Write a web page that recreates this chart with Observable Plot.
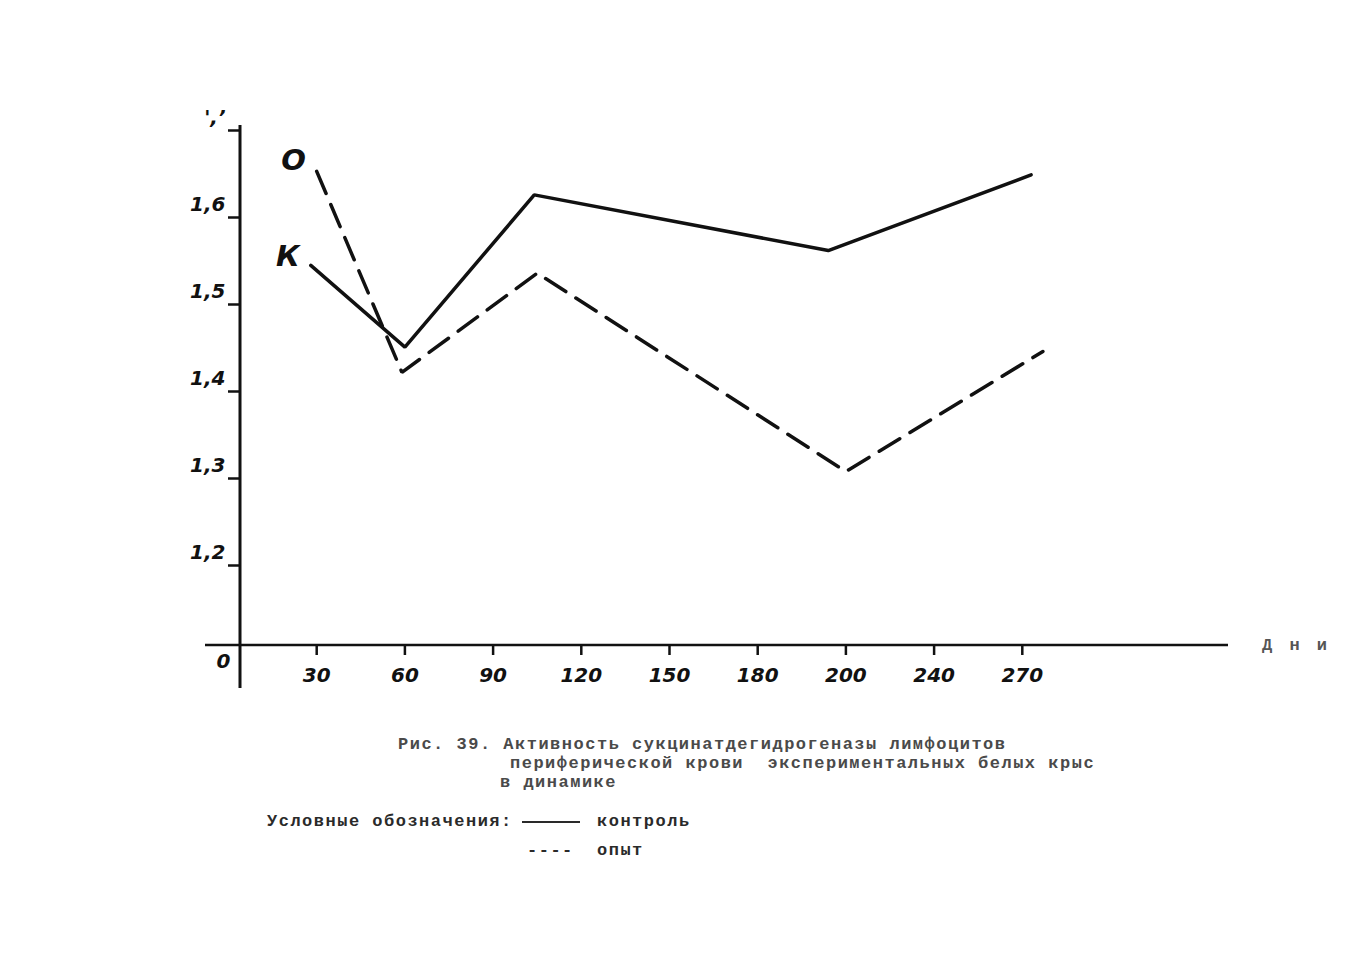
<!DOCTYPE html>
<html>
<head>
<meta charset="utf-8">
<script src="https://cdn.jsdelivr.net/npm/d3@7"></script>
<script src="https://cdn.jsdelivr.net/npm/@observablehq/plot@0.6"></script>
<style>
  body { margin: 0; background: #ffffff; }
  #wrap { position: relative; width: 1352px; height: 960px; overflow: hidden; }
  #chart { position: absolute; left: 0; top: 0; }
  .tw { position: absolute; font-family: "Liberation Mono", "DejaVu Sans Mono", monospace; font-size: 17px; letter-spacing: 1.5px; line-height: 20px; color: #4a4a4a; font-weight: bold; white-space: pre; }
  .lg { color: #2a2a2a; }
  .solid { position: absolute; height: 0; border-top: 2.5px solid #2a2a2a; }
</style>
</head>
<body>
<div id="wrap">
  <div id="chart"></div>
  <div class="tw" style="left:1262px;top:636px;letter-spacing:3.5px;color:#555">Д н и</div>
  <div class="tw" style="left:398px;top:735px">Рис. 39. Активность сукцинатдегидрогеназы лимфоцитов</div>
  <div class="tw" style="left:510px;top:754px">периферической крови  экспериментальных белых крыс</div>
  <div class="tw" style="left:500px;top:773px">в динамике</div>
  <div class="tw lg" style="left:267px;top:812px">Условные обозначения:</div>
  <div class="solid" style="left:522px;top:821px;width:58px"></div>
  <div class="tw lg" style="left:597px;top:812px">контроль</div>
  <div class="tw lg" style="left:527px;top:841px">----</div>
  <div class="tw lg" style="left:597px;top:841px">опыт</div>
</div>
<script>
// X axis: day ticks (drawn at equal spacing in the original)
const tickDays = [0, 30, 60, 90, 120, 150, 180, 200, 240, 270];
const xTickLabels = ["0", "30", "60", "90", "120", "150", "180", "200", "240", "270"];
// Y axis ticks
const yTicks = [1.2, 1.3, 1.4, 1.5, 1.6, 1.7];
const yTickLabels = ["1,2", "1,3", "1,4", "1,5", "1,6", "',’"];

// Series: контроль (solid, "К") and опыт (dashed, "О")
const controlDays = [28, 60, 104, 196, 273];
const controlValues = [1.545, 1.451, 1.626, 1.562, 1.649];
const experimentDays = [30, 59, 105, 200, 277];
const experimentValues = [1.653, 1.422, 1.536, 1.308, 1.446];

const control = controlDays.map((d, i) => ({day: d, value: controlValues[i]}));
const experiment = experimentDays.map((d, i) => ({day: d, value: experimentValues[i]}));

const W = 1352, H = 710;
const mL = 240, mR = 124, mT = 130, mB = 65;
const step = 88.2;
const x0 = mL - 12;

const handFont = "'DejaVu Sans', 'Liberation Sans', sans-serif";
const yLabel = d => yTickLabels[yTicks.findIndex(t => Math.abs(t - d) < 1e-9)];

const svg = Plot.plot({
  width: W,
  height: H,
  marginLeft: mL,
  marginRight: mR,
  marginTop: mT,
  marginBottom: mB,
  style: {background: "transparent", fontFamily: handFont, fontStyle: "italic", fontSize: "20px", color: "#111"},
  x: {type: "linear", domain: tickDays, range: tickDays.map((d, i) => x0 + i * step)},
  y: {type: "linear", domain: [1.2, 1.7], range: [H - mB - 80, mT]},
  marks: [
    Plot.axisX({
      ticks: tickDays.slice(1),
      tickFormat: d => xTickLabels[tickDays.indexOf(d)],
      tickSize: 10,
      tickPadding: 12,
      fontSize: 20,
      fontStyle: "italic",
      fontWeight: "bold",
      strokeWidth: 2.5,
      label: null
    }),
    // y tick marks
    Plot.axisY({
      ticks: yTicks,
      tickFormat: () => "",
      tickSize: 12,
      strokeWidth: 2.5,
      label: null
    }),
    // y tick labels, raised above their ticks as in the hand-drawn original
    Plot.axisY({
      ticks: yTicks,
      tickFormat: yLabel,
      tickSize: 0,
      tickPadding: 15,
      dy: -13,
      fontSize: 20,
      fontStyle: "italic",
      fontWeight: "bold",
      label: null
    }),
    Plot.text([tickDays[0]], {x: d => d, frameAnchor: "bottom", dy: 22, dx: -5, text: () => xTickLabels[0], fontSize: 20, fontStyle: "italic", fontWeight: "bold", fill: "#111"}),
    Plot.line(control, {x: "day", y: "value", stroke: "#111", strokeWidth: 3.5, strokeLinejoin: "miter"}),
    Plot.line(experiment, {x: "day", y: "value", stroke: "#111", strokeWidth: 3.5, strokeDasharray: "24,12", strokeLinejoin: "miter"}),
    Plot.text([control[0]], {x: "day", y: "value", text: () => "К", dx: -23, dy: -9, fontSize: 29, fontStyle: "italic", fontWeight: "bold", fill: "#111"}),
    Plot.text([experiment[0]], {x: "day", y: "value", text: () => "О", dx: -23, dy: -11, fontSize: 29, fontStyle: "italic", fontWeight: "bold", fill: "#111"})
  ]
});

// axis lines (frame of the hand-drawn chart)
const g = d3.select(svg);
g.append("line").attr("x1", mL - 35).attr("x2", W - mR).attr("y1", H - mB).attr("y2", H - mB)
  .attr("stroke", "#111").attr("stroke-width", 2.5);
g.append("line").attr("x1", mL).attr("x2", mL).attr("y1", mT - 5).attr("y2", H - mB + 43)
  .attr("stroke", "#111").attr("stroke-width", 3);

document.getElementById("chart").appendChild(svg);
</script>
</body>
</html>
